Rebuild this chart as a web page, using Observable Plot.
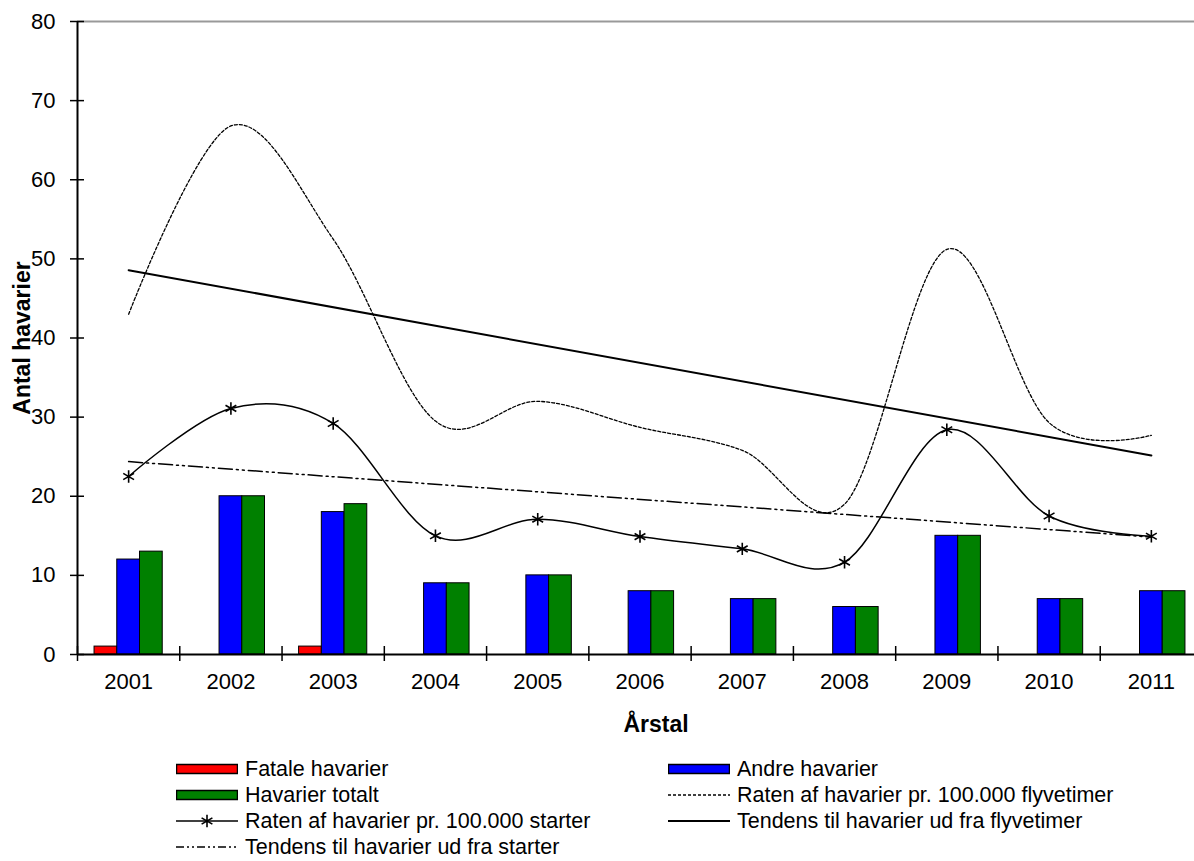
<!DOCTYPE html>
<html><head><meta charset="utf-8">
<script src="https://cdn.jsdelivr.net/npm/d3@7"></script>
<script src="https://cdn.jsdelivr.net/npm/@observablehq/plot@0.6"></script>
<style>
body{margin:0;background:#fff;overflow:hidden;font-family:"Liberation Sans",Arial,sans-serif;}
#chart svg{display:block;overflow:visible;}
#legend{position:relative;height:111px;width:1194px;}
.item{position:absolute;display:flex;align-items:center;font-size:21.5px;height:26px;white-space:nowrap;color:#000;}
.item svg{display:block;flex:none;}
</style></head><body>
<div id="chart"></div><div id="legend"></div>
<script>
const years = [2001, 2002, 2003, 2004, 2005, 2006, 2007, 2008, 2009, 2010, 2011];
const fataleHavarier = [1, 0, 1, 0, 0, 0, 0, 0, 0, 0, 0];
const andreHavarier = [12, 20, 18, 9, 10, 8, 7, 6, 15, 7, 8];
const havarierTotalt = [13, 20, 19, 9, 10, 8, 7, 6, 15, 7, 8];
const rateFlyvetimer = [43.0, 66.8, 52.5, 29.5, 32.0, 28.7, 25.8, 19.0, 51.2, 29.3, 27.7];
const rateStarter = [22.5, 31.1, 29.2, 15.0, 17.1, 14.9, 13.35, 11.67, 28.4, 17.5, 14.95];
const yTicks = [0, 10, 20, 30, 40, 50, 60, 70, 80];
const seriesNames = ["Fatale havarier", "Andre havarier", "Havarier totalt",
  "Raten af havarier pr. 100.000 flyvetimer", "Raten af havarier pr. 100.000 starter",
  "Tendens til havarier ud fra flyvetimer", "Tendens til havarier ud fra starter"];
const colors = {fatale: "#ff0000", andre: "#0000ff", totalt: "#008000"};

const data = years.map((year, i) => ({
  year, fatale: fataleHavarier[i], andre: andreHavarier[i], totalt: havarierTotalt[i],
  fly: rateFlyvetimer[i], start: rateStarter[i]
}));
const boundaries = d3.range(years[0] - 0.5, years[years.length - 1] + 1, 1);
const dashDot = "14,4,2,4,2,4";

const chart = Plot.plot({
  width: 1194, height: 750,
  marginTop: 21, marginBottom: 96, marginLeft: 77, marginRight: 0,
  style: {fontFamily: "Liberation Sans, Arial, sans-serif", fontSize: "22px", background: "white", overflow: "visible", color: "black"},
  x: {type: "linear", domain: [2000.5, 2011.5], range: [77, 1202], label: null},
  y: {domain: [0, 80], range: [654, 21], label: null},
  marks: [
    Plot.ruleY([80], {stroke: "#999", strokeWidth: 2}),
    Plot.rectY(data.filter(d => d.fatale > 0), {x1: d => d.year - 1/3, x2: d => d.year - 1/9, y1: 0, y2: "fatale", fill: colors.fatale, stroke: "black", strokeWidth: 1}),
    Plot.rectY(data, {x1: d => d.year - 1/9, x2: d => d.year + 1/9, y1: 0, y2: "andre", fill: colors.andre, stroke: "black", strokeWidth: 1}),
    Plot.rectY(data, {x1: d => d.year + 1/9, x2: d => d.year + 1/3, y1: 0, y2: "totalt", fill: colors.totalt, stroke: "black", strokeWidth: 1}),
    Plot.line(data, {x: "year", y: "fly", curve: "cardinal", stroke: "black", strokeWidth: 1.3, strokeDasharray: "3,2"}),
    Plot.line(data, {x: "year", y: "start", curve: "cardinal", stroke: "black", strokeWidth: 1.5}),
    Plot.dot(data, {x: "year", y: "start", symbol: "asterisk", r: 5.9, stroke: "black", strokeWidth: 1.6}),
    Plot.linearRegressionY(data, {x: "year", y: "fly", ci: 0, stroke: "black", strokeWidth: 2}),
    Plot.linearRegressionY(data, {x: "year", y: "start", ci: 0, stroke: "black", strokeWidth: 1.5, strokeDasharray: dashDot}),
    Plot.ruleY([0], {stroke: "black", strokeWidth: 2}),
    Plot.ruleX([2000.5], {y1: 0, y2: 80, stroke: "black", strokeWidth: 2}),
    Plot.axisY({ticks: yTicks, tickSize: 14, dx: 7, tickPadding: 15, label: null, strokeWidth: 1.5}),
    Plot.axisX({ticks: years, tickSize: 0, tickPadding: 19, tickFormat: d => String(d), label: null}),
    Plot.axisX({ticks: boundaries, tickSize: 15, dy: -8, tickFormat: () => "", label: null, strokeWidth: 1.5}),
    Plot.text(["Antal havarier"], {frameAnchor: "left", textAnchor: "middle", rotate: -90, dx: -55, fontWeight: "bold", fontSize: 23}),
    Plot.text(["Årstal"], {frameAnchor: "bottom", textAnchor: "middle", dx: 20, dy: 77, fontWeight: "bold", fontSize: 23})
  ]
});
document.getElementById("chart").appendChild(chart);

// Legend
const legend = d3.select("#legend");
function swatch(kind) {
  const w = 62, h = 26;
  const s = d3.create("svg").attr("width", w).attr("height", h);
  if (kind.fill) {
    s.append("rect").attr("x", 0.5).attr("y", 8.5).attr("width", w - 1).attr("height", 9)
      .attr("fill", kind.fill).attr("stroke", "black").attr("stroke-width", 1.5);
  } else {
    s.append("line").attr("x1", 0).attr("x2", w).attr("y1", 13).attr("y2", 13)
      .attr("stroke", "black").attr("stroke-width", kind.width || 1.5)
      .attr("stroke-dasharray", kind.dash || null);
    if (kind.star) {
      s.append("path").attr("transform", "translate(31,13)")
        .attr("d", d3.symbol(d3.symbolAsterisk, 5.9 * 5.9 * Math.PI)())
        .attr("stroke", "black").attr("stroke-width", 1.6).attr("fill", "none");
    }
  }
  return s.node();
}
const items = [
  {name: seriesNames[0], col: 0, row: 0, kind: {fill: colors.fatale}},
  {name: seriesNames[1], col: 1, row: 0, kind: {fill: colors.andre}},
  {name: seriesNames[2], col: 0, row: 1, kind: {fill: colors.totalt}},
  {name: seriesNames[3], col: 1, row: 1, kind: {dash: "3,2", width: 1.3}},
  {name: seriesNames[4], col: 0, row: 2, kind: {star: true}},
  {name: seriesNames[5], col: 1, row: 2, kind: {width: 2}},
  {name: seriesNames[6], col: 0, row: 3, kind: {dash: "8,3,2,3,2,3"}}
];
const colX = [176, 668];
items.forEach(it => {
  const div = legend.append("div").attr("class", "item")
    .style("left", colX[it.col] + "px").style("top", (6 + it.row * 26) + "px");
  div.node().appendChild(swatch(it.kind));
  div.append("span").style("margin-left", "7px").text(it.name);
});
</script>
</body></html>
